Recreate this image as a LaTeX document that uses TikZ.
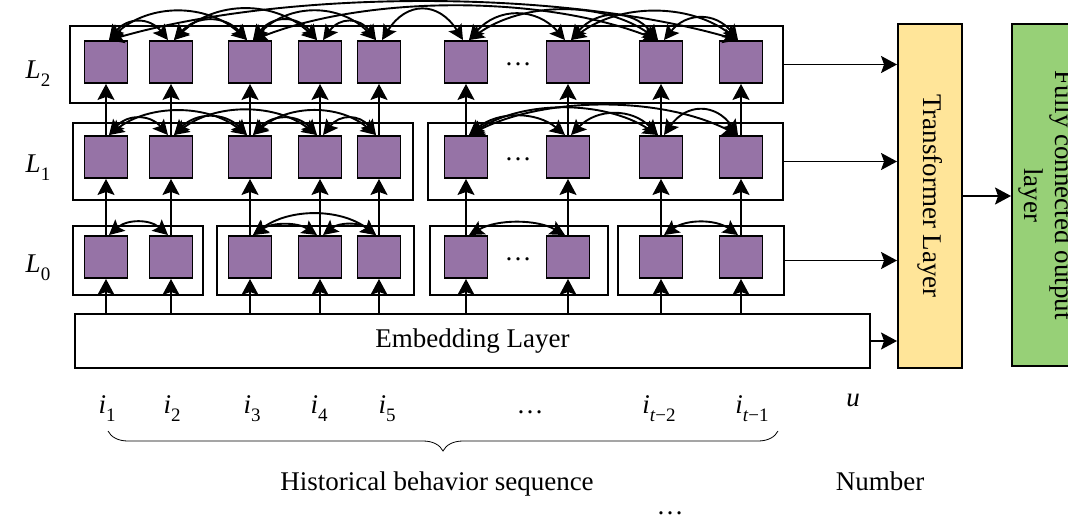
\documentclass[tikz,border=0pt]{standalone}
\usepackage{fontspec}
\setmainfont{Liberation Serif}
\usetikzlibrary{arrows.meta,decorations.pathreplacing,calc}
\definecolor{cellpurple}{HTML}{9673A6}
\definecolor{transyellow}{HTML}{FFE599}
\definecolor{fcgreen}{HTML}{97D077}
% lowered index in a smaller size
\newcommand\lowidx[1]{\raisebox{-0.3em}{\fontsize{19}{19}\selectfont #1}}

\begin{document}
\begin{tikzpicture}[x=1pt,y=-1pt,
  font=\fontsize{27}{31}\selectfont,
  cell/.style={draw, line width=1.9pt, fill=cellpurple, minimum width=43pt, minimum height=42pt, inner sep=0pt},
  group/.style={draw, line width=1.9pt, inner sep=0pt},
  tip/.style={-{Stealth[length=16pt,width=17pt,inset=3pt]}, line width=1.9pt},
  link/.style={{Stealth[length=15pt,width=15pt,inset=3pt]}-{Stealth[length=15pt,width=15pt,inset=3pt]}, line width=1.9pt},
]
\clip (0,0) rectangle (1068,519);
\useasboundingbox (0,0) rectangle (1068,519);

% layer groups
\node[group, minimum width=713pt, minimum height=77pt] (g2) at (426.5,64.5) {};
\node[group, minimum width=340pt, minimum height=77pt] (g1a) at (243,161.5) {};
\node[group, minimum width=355pt, minimum height=77pt] (g1b) at (605.5,161.5) {};
\node[group, minimum width=130pt, minimum height=69pt] (g0a) at (138,260.5) {};
\node[group, minimum width=197pt, minimum height=69pt] (g0b) at (315.5,260.5) {};
\node[group, minimum width=178pt, minimum height=69pt] (g0c) at (519,260.5) {};
\node[group, minimum width=166pt, minimum height=69pt] (g0d) at (701,260.5) {};
\node[group, minimum width=795pt, minimum height=54pt] (emb) at (472.5,341) {Embedding Layer};

% cells of the three layers
\foreach \x [count=\i] in {106,171,250,320,379,466,568,661,741} {
  \node[cell] (top\i) at (\x,62) {};
  \node[cell] (mid\i) at (\x,157) {};
  \node[cell] (bot\i) at (\x,257) {};
}
\node (dots2) at (518,64) {\ldots};
\node (dots1) at (518,159) {\ldots};
\node (dots0) at (518,259) {\ldots};

% upward connections
\foreach \i in {1,...,9} {
  \draw[tip] (bot\i.south |- emb.north) -- (bot\i.south);
  \draw[tip] (bot\i.north) -- (mid\i.south);
  \draw[tip] (mid\i.north) -- (top\i.south);
}

% attention arcs between cells
\foreach \ia/\ib/\hh in {1/2/23,1/3/37,2/3/25,2/4/40,3/4/25,3/5/37,4/5/23,5/6/39,1/9/51,3/8/45,6/7/33,6/8/39,7/8/31,7/9/37,8/9/28} {
  \draw[link] let \p1=(top\ia.north), \p2=(top\ib.north), \n1={0.28*(\x2-\x1)} in
    ([xshift=3pt]\p1) .. controls +(\n1,-\hh) and +(-\n1,-\hh) .. ([xshift=-3pt]\p2);
}
\foreach \ia/\ib/\hh in {1/2/21,1/3/31,2/3/23,2/4/32,3/4/21,3/5/31,4/5/21,6/7/24,6/8/35,6/9/39,7/8/27,8/9/32} {
  \draw[link] let \p1=(mid\ia.north), \p2=(mid\ib.north), \n1={0.28*(\x2-\x1)} in
    ([xshift=3pt]\p1) .. controls +(\n1,-\hh) and +(-\n1,-\hh) .. ([xshift=-3pt]\p2);
}
\foreach \ia/\ib/\hh in {1/2/16,3/4/13,4/5/13,3/5/27,6/7/16,8/9/16} {
  \draw[link] let \p1=(bot\ia.north), \p2=(bot\ib.north), \n1={0.28*(\x2-\x1)} in
    ([xshift=3pt]\p1) .. controls +(\n1,-\hh) and +(-\n1,-\hh) .. ([xshift=-3pt]\p2);
}

% transformer and output layers
\node[draw, line width=1.9pt, fill=transyellow, minimum width=64pt, minimum height=344pt] (tf) at (930,196) {};
\node[rotate=-90] (tftext) at (tf.center) {Transformer Layer};
\node[draw, line width=1.9pt, fill=fcgreen, minimum width=68pt, minimum height=342pt] (fc) at (1046,195) {};
\node[rotate=-90, align=center] (fctext) at (fc.center) {Fully connected output\\layer};

\draw[tip] (g2.east) -- (g2.east -| tf.west);
\draw[tip] (g1b.east) -- (g1b.east -| tf.west);
\draw[tip] (g0d.east) -- (g0d.east -| tf.west);
\draw[tip] (emb.east) -- (emb.east -| tf.west);
\draw[tip] (tf.east) -- (tf.east -| fc.west);

% layer labels
\node[anchor=base] (lab2) at (38,78) {\textit{L}\lowidx{2}};
\node[anchor=base] (lab1) at (38,172) {\textit{L}\lowidx{1}};
\node[anchor=base] (lab0) at (38,272) {\textit{L}\lowidx{0}};

% input items
\node[anchor=base] (in1) at (107,413) {\textit{i}\lowidx{1}};
\node[anchor=base] (in2) at (172,413) {\textit{i}\lowidx{2}};
\node[anchor=base] (in3) at (252,413) {\textit{i}\lowidx{3}};
\node[anchor=base] (in4) at (319,413) {\textit{i}\lowidx{4}};
\node[anchor=base] (in5) at (387,413) {\textit{i}\lowidx{5}};
\node[anchor=base] (indots) at (530,413) {\ldots};
\node[anchor=base] (int2) at (659,413) {\textit{i}\lowidx{\textit{t}−2}};
\node[anchor=base] (int1) at (752,413) {\textit{i}\lowidx{\textit{t}−1}};
\node[anchor=base] (user) at (853,406) {\textit{u}};

\coordinate (bl) at (108,431);
\coordinate (br) at (778,431);
\draw[decorate, decoration={brace, mirror, amplitude=20pt}, line width=0.8pt] (bl) -- (br);
\node[anchor=base] (hist) at (437,490) {Historical behavior sequence};
\node[anchor=base] (num) at (880,490) {Number};
\node[anchor=base] (more) at (670,514) {\ldots};
\end{tikzpicture}
\end{document}
